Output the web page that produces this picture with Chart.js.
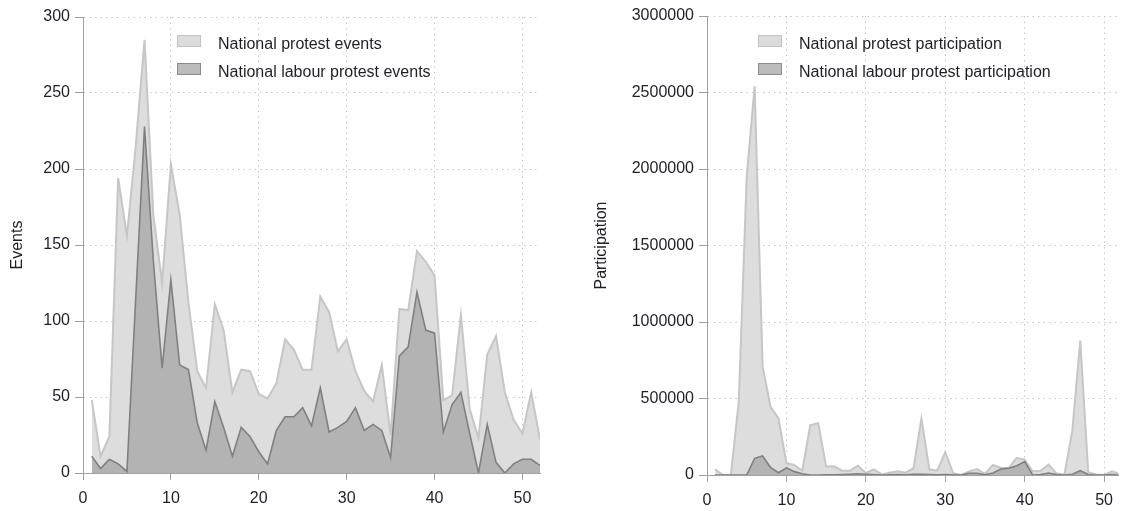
<!DOCTYPE html>
<html lang="en">
<head>
<meta charset="UTF-8">
<title>Protest events and participation</title>
<script src="https://cdn.jsdelivr.net/npm/chart.js@4.4.0/dist/chart.umd.min.js"></script>
<style>
  body { margin: 0; background: #fff; font-family: "Liberation Sans", Arial, sans-serif; }
  #wrap { position: relative; width: 1122px; height: 511px; overflow: hidden; }
  canvas { position: absolute; top: 0; }
  .sw { position: absolute; width: 22px; height: 10px; }
  .sw.light { background: #dcdcdc; border: 1.5px solid #c3c3c3; }
  .sw.dark { background: #bcbcbc; border: 1.5px solid #8c8c8c; }
  .lt { position: absolute; font-size: 16px; line-height: 16px; color: #1e1e28; white-space: nowrap; }
</style>
</head>
<body>
<div id="wrap">
  <canvas id="evChart" width="561" height="511" style="left:0"></canvas>
  <canvas id="partChart" width="561" height="511" style="left:561px"></canvas>

  <div class="sw light" style="left:177px;top:35px"></div>
  <div class="lt" style="left:218px;top:36px">National protest events</div>
  <div class="sw dark" style="left:177px;top:63px"></div>
  <div class="lt" style="left:218px;top:64px">National labour protest events</div>

  <div class="sw light" style="left:758px;top:35px"></div>
  <div class="lt" style="left:799px;top:36px">National protest participation</div>
  <div class="sw dark" style="left:758px;top:63px"></div>
  <div class="lt" style="left:799px;top:64px">National labour protest participation</div>
</div>

<script>
// weeks of the year
var weeks = [1, 2, 3, 4, 5, 6, 7, 8, 9, 10, 11, 12, 13, 14, 15, 16, 17, 18, 19, 20,
  21, 22, 23, 24, 25, 26, 27, 28, 29, 30, 31, 32, 33, 34, 35, 36, 37, 38, 39, 40,
  41, 42, 43, 44, 45, 46, 47, 48, 49, 50, 51, 52];

// left panel: number of events
var protestEvents = [48, 11, 24, 194, 156, 215, 285, 170, 125, 203, 170, 112, 67, 56, 111, 94, 53, 68, 67, 52,
  49, 59, 88, 81, 68, 68, 116, 106, 80, 88, 67, 54, 47, 71, 25, 108, 107, 146, 139, 130,
  48, 51, 104, 42, 23, 78, 90, 53, 35, 26, 53, 22];
var labourEvents = [11, 3, 9, 6, 1, 115, 228, 140, 69, 127, 71, 68, 33, 15, 47, 30, 11, 30, 24, 14,
  6, 28, 37, 37, 43, 31, 56, 27, 30, 34, 43, 28, 32, 28, 10, 77, 83, 119, 94, 92,
  27, 45, 53, 26, 0, 32, 7, 0, 6, 9, 9, 5];

// right panel: participants
var protestPart = [37000, 0, 0, 480000, 1950000, 2540000, 708000, 446000, 370000, 77000,
  66000, 28000, 325000, 340000, 55000, 57000, 28000, 28000, 61000, 13000,
  37000, 4000, 15000, 24000, 15000, 44000, 368000, 37000, 28000, 149000,
  11000, 0, 24000, 39000, 7000, 66000, 46000, 46000, 112000, 101000,
  24000, 28000, 68000, 11000, 0, 292000, 878000, 18000, 4000, 0, 24000, 7000];
var labourPart = [0, 0, 0, 0, 0, 109000, 124000, 50000, 15000, 47000,
  22000, 8000, 0, 0, 2000, 2000, 3000, 5000, 8000, 5000,
  3000, 0, 2000, 3000, 2000, 5000, 4000, 3000, 2000, 3000,
  2000, 0, 11000, 11000, 2000, 13000, 39000, 44000, 61000, 88000,
  0, 3000, 13000, 3000, 0, 5000, 28000, 3000, 0, 0, 3000, 0];

var xTicks = [0, 10, 20, 30, 40, 50];
var evTicks = [0, 50, 100, 150, 200, 250, 300];
var partTicks = [0, 500000, 1000000, 1500000, 2000000, 2500000, 3000000];

var FONT = { family: "'Liberation Sans', Arial, sans-serif", size: 16 };
var TEXT = '#1e1e28';
var GRID = '#c8c8c8';
var AXIS = '#a0a0a0';

function pts(vals) {
  return weeks.map(function (w, i) { return { x: w, y: vals[i] }; });
}

function areaSet(label, vals, light) {
  return {
    label: label,
    data: pts(vals),
    fill: 'origin',
    backgroundColor: light ? '#dddddd' : '#b3b3b3',
    borderColor: light ? '#c6c6c6' : '#808080',
    borderWidth: light ? 2 : 1.6,
    pointRadius: 0,
    tension: 0,
    order: light ? 2 : 1
  };
}

function gridCol(ctx) {
  return ctx.tick && ctx.tick.value === 0 ? 'rgba(0,0,0,0)' : GRID;
}

function makeChart(id, d1, d2, yMax, yTickVals, title, opts) {
  return new Chart(document.getElementById(id).getContext('2d'), {
    type: 'line',
    data: { datasets: [d1, d2] },
    options: {
      responsive: false,
      animation: false,
      layout: { padding: { top: opts.top, right: opts.right, left: 0, bottom: 0 } },
      plugins: {
        legend: { display: false },
        tooltip: { enabled: false },
        filler: { drawTime: 'beforeDatasetDraw' }
      },
      scales: {
        x: {
          type: 'linear',
          min: 0,
          max: opts.xMax,
          afterBuildTicks: function (s) { s.ticks = xTicks.map(function (v) { return { value: v }; }); },
          ticks: { color: TEXT, font: FONT, padding: 9, maxRotation: 0, autoSkip: false },
          grid: { color: gridCol, tickColor: AXIS, tickLength: 7, tickBorderDash: [], lineWidth: 1 },
          border: { display: true, color: AXIS, width: 1, dash: [1.5, 4] },
          afterFit: function (s) { s.height = opts.xh; }
        },
        y: {
          min: 0,
          max: yMax,
          afterBuildTicks: function (s) { s.ticks = yTickVals.map(function (v) { return { value: v }; }); },
          ticks: {
            color: TEXT, font: FONT, padding: 5,
            callback: function (v) { return String(v); }
          },
          grid: { color: gridCol, tickColor: AXIS, tickLength: 8, tickBorderDash: [], lineWidth: 1 },
          border: { display: true, color: AXIS, width: 1, dash: [1.5, 4] },
          title: { display: true, text: title, color: TEXT, font: FONT, padding: { top: opts.tpad, bottom: 0 } },
          afterFit: function (s) { s.width = opts.yw; }
        }
      }
    }
  });
}

makeChart('evChart',
  areaSet('National protest events', protestEvents, true),
  areaSet('National labour protest events', labourEvents, false),
  300, evTicks, 'Events',
  { top: 17, right: 21, xh: 38, yw: 83, tpad: 8, xMax: 52 });

// right panel is cut off by the picture edge just before week 52
makeChart('partChart',
  areaSet('National protest participation', protestPart, true),
  areaSet('National labour protest participation', labourPart, false),
  3000000, partTicks, 'Participation',
  { top: 16, right: 0, xh: 36, yw: 146, tpad: 31, xMax: 51.8 });
</script>
</body>
</html>
